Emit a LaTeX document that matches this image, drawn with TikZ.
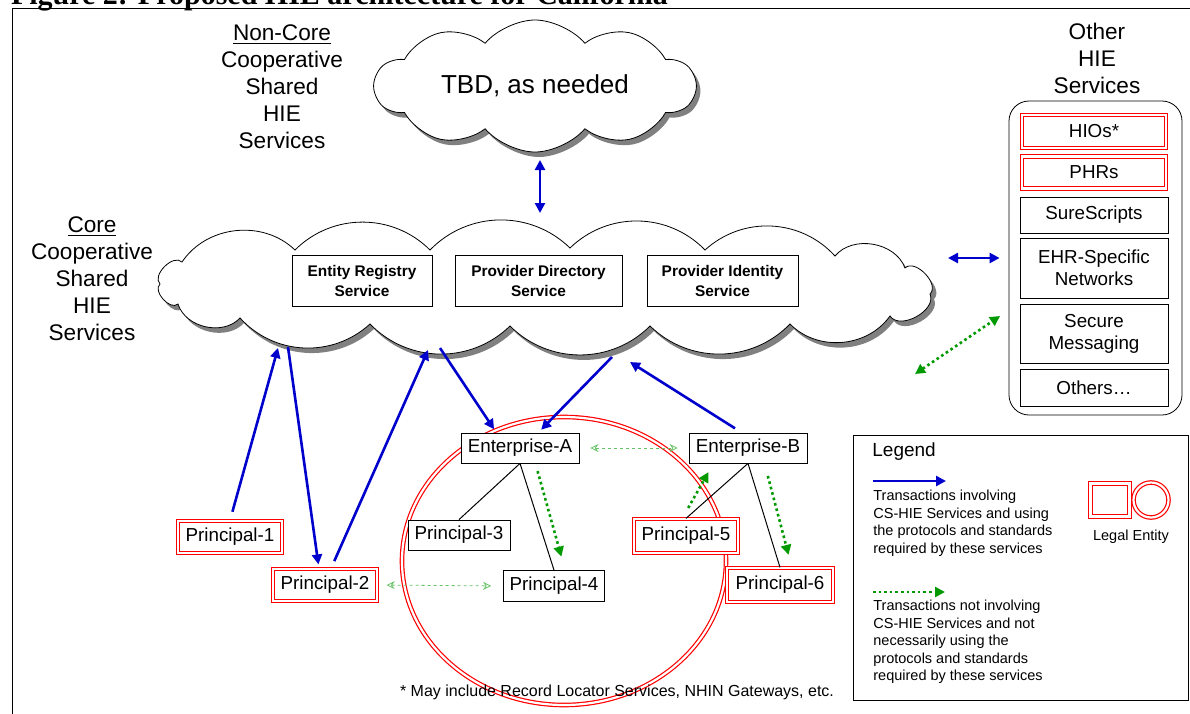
\documentclass[tikz,border=0pt]{standalone}
\usepackage{fontspec}
\setmainfont{Liberation Sans}
\newfontfamily\titlefont{Liberation Serif}
\usetikzlibrary{shapes.symbols, shapes.geometric, shadows, arrows.meta}
\definecolor{myblue}{RGB}{0,0,204}
\definecolor{mygreen}{RGB}{0,153,0}
\definecolor{myred}{RGB}{255,0,0}

\begin{document}
\begin{tikzpicture}[x=0.5pt, y=-0.5pt]
	\tikzset{box/.style={draw, fill=white, rectangle, inner sep=1pt, font=\fontsize{9.4}{11}\selectfont}}
	\tikzset{legal/.style={box, draw=myred, double=white, double distance=1.1pt, line width=0.6pt}}
	\tikzset{svc/.style={box, align=center, minimum height=25.5pt, font=\fontsize{7.7}{10}\selectfont\bfseries}}
	\tikzset{biglabel/.style={align=center, font=\fontsize{11.3}{13.5}\selectfont}}
	\tikzset{legtext/.style={align=left, inner sep=0pt, font=\fontsize{7.25}{8.7}\selectfont}}
	\tikzset{cloudy/.style={draw, fill=white, cloud, cloud ignores aspect, drop shadow={shadow xshift=2pt, shadow yshift=-2.5pt, fill=black!50, opacity=1}}}
	\tikzset{corecloud/.style={insert path={(160,284) to[bend left=90] (182,262) to[bend left=50] (295,250)
		to[bend left=45] (430,250) to[bend left=45] (570,248) to[bend left=45] (705,250) to[bend left=45] (835,256)
		to[bend left=60] (905,268) to[bend left=90] (930,294) to[bend left=85] (890,316) to[bend left=50] (790,324)
		to[bend left=45] (650,326) to[bend left=45] (510,326) to[bend left=45] (370,324) to[bend left=45] (240,318)
		to[bend left=60] (178,304) to[bend left=90] (160,284) -- cycle}}}
	\tikzset{edge/.style={myblue, line width=1.3pt, -{Triangle[length=5pt,width=5pt]}}}
	\tikzset{dedge/.style={myblue, line width=1.3pt, {Triangle[length=5pt,width=5pt]}-{Triangle[length=5pt,width=5pt]}}}
	\tikzset{gedge/.style={mygreen, line width=1.3pt, dash pattern=on 1.3pt off 1.5pt, -{Triangle[length=5pt,width=5pt]}}}
	\tikzset{dgedge/.style={gedge, {Triangle[length=5pt,width=5pt]}-{Triangle[length=5pt,width=5pt]}}}
	\tikzset{fedge/.style={mygreen!60, line width=0.4pt, dash pattern=on 1.5pt off 1.5pt, {Stealth[open,length=4pt,width=4pt]}-{Stealth[open,length=4pt,width=4pt]}}}
	
	\useasboundingbox (0,0) rectangle (1190,713);
	\node(title) at (4,4) [anchor=base west, font=\titlefont\fontsize{15}{18}\selectfont\bfseries] {Figure 2:  Proposed HIE architecture for California};
	\draw[line width=0.5pt] (12,730) -- (12,8) -- (1190,8);
	
	% clouds
	\node(tbd) at (535,86) [cloudy, cloud puffs=10, cloud puff arc=100, minimum width=160pt, minimum height=66pt, font=\fontsize{13}{15}\selectfont] {TBD, as needed};
	\fill[black!50, shift={(4,5)}, corecloud];
	\draw[fill=white, corecloud];
	\coordinate(core) at (546,288);
	\node(noncorelbl) at (282,87) [biglabel] {\underline{Non-Core}\\Cooperative\\Shared\\HIE\\Services};
	\node(corelbl) at (92,279) [biglabel] {\underline{Core}\\Cooperative\\Shared\\HIE\\Services};
	
	\node(ers) at (362,280.5) [svc, minimum width=70pt] {Entity Registry\\Service};
	\node(pds) at (538.5,280.5) [svc, minimum width=83.5pt] {Provider Directory\\Service};
	\node(pis) at (722.5,280.5) [svc, minimum width=75.5pt] {Provider Identity\\Service};
	
	% other services
	\node(otherlbl) at (1097,58) [biglabel] {Other\\HIE\\Services};
	\node(other) at (1095.5,258) [draw, rounded corners=10pt, minimum width=86.5pt, minimum height=157pt] {};
	\node(hio) at (1094,131.5) [legal, minimum width=72pt, minimum height=16.5pt] {HIOs*};
	\node(phr) at (1094,172.5) [legal, minimum width=72pt, minimum height=16pt] {PHRs};
	\node(sure) at (1094,215) [box, minimum width=74pt, minimum height=18pt] {SureScripts};
	\node(ehr) at (1094,268) [box, align=center, minimum width=74pt, minimum height=30pt] {EHR-Specific\\Networks};
	\node(secure) at (1094,333.5) [box, align=center, minimum width=74pt, minimum height=29.5pt] {Secure\\Messaging};
	\node(others) at (1094,387.5) [box, minimum width=74pt, minimum height=18.5pt] {Others…};
	
	% enterprises and principals
	\node(grpA) at (564,561) [ellipse, draw=myred, double=white, double distance=1.1pt, line width=0.6pt, minimum width=162pt, minimum height=144pt] {};
	\node(entA) at (520,448) [box, minimum width=59pt, minimum height=15pt] {Enterprise-A};
	\node(entB) at (748,448) [box, minimum width=59pt, minimum height=15pt] {Enterprise-B};
	\node(pr1) at (230,537) [legal, minimum width=52pt, minimum height=16pt] {Principal-1};
	\node(pr2) at (325,585) [legal, minimum width=52pt, minimum height=16pt] {Principal-2};
	\node(pr3) at (459,535) [box, minimum width=51pt, minimum height=15pt] {Principal-3};
	\node(pr4) at (554,586) [box, minimum width=50.5pt, minimum height=15.5pt] {Principal-4};
	\node(pr5) at (686,536) [legal, minimum width=52pt, minimum height=17pt] {Principal-5};
	\node(pr6) at (780,585) [legal, minimum width=53pt, minimum height=17pt] {Principal-6};
	
	\draw[line width=0.5pt] (entA.south) -- (pr3.north);
	\draw[line width=0.5pt] (entA.south) -- (pr4.north);
	\draw[line width=0.5pt] (entB.south) -- (pr5.north);
	\draw[line width=0.5pt] (entB.south) -- (pr6.north);
	
	% blue transactions
	\coordinate(tbdS) at (540,160);
	\coordinate(coreN) at (540,213);
	\coordinate(coreE) at (948,258);
	\coordinate(c1) at (278,348);
	\coordinate(c2) at (288,347);
	\coordinate(c3) at (428,350);
	\coordinate(c4) at (440,348);
	\coordinate(c5) at (612,357);
	\coordinate(c6) at (630,362);
	\draw[dedge] (tbdS) -- (coreN);
	\draw[dedge, shorten >=4.5pt] (coreE) -- (other.west);
	\draw[edge, shorten <=4.5pt] (pr1.north) -- (c1);
	\draw[edge, shorten >=2pt] (c2) -- (pr2.110);
	\draw[edge, shorten <=4pt] (pr2.70) -- (c3);
	\draw[edge, shorten >=2pt] (c4) -- (entA.147);
	\draw[edge, shorten >=2pt] (c5) -- (entA.40);
	\draw[edge, shorten <=4pt] (entB.112) -- (c6);
	
	% green transactions
	\coordinate(g1) at (915,374);
	\coordinate(g2) at (1000,316);
	\draw[dgedge] (g1) -- (g2);
	\draw[gedge, shorten <=4pt, shorten >=7pt] (entA.-45) -- (pr4.55);
	\draw[gedge, shorten <=6pt, shorten >=5pt] (pr5.102) -- (entB.-156);
	\draw[gedge, shorten <=6.5pt, shorten >=6.5pt] (entB.-43) -- (pr6.56);
	\draw[fedge, shorten <=5.5pt, shorten >=5.5pt] (entA.east) -- (entB.west);
	\draw[fedge, shorten <=4.5pt, shorten >=6pt] (pr2.east) -- (pr4.west);
	
	\node(note) at (617,692) [font=\fontsize{8}{10}\selectfont] {* May include Record Locator Services, NHIN Gateways, etc.};
	
	% legend
	\node(legend) at (1020.5,567.5) [draw, minimum width=167.5pt, minimum height=132.5pt] {};
	\node(legtitle) at (872,452) [anchor=west, inner sep=0pt, font=\fontsize{9.5}{11}\selectfont] {Legend};
	\coordinate(lb1) at (873,481);
	\coordinate(lb2) at (946,481);
	\draw[edge] (lb1) -- (lb2);
	\node(legblue) at (873,490) [legtext, anchor=north west] {Transactions involving\\CS-HIE Services and using\\the protocols and standards\\required by these services};
	\node(lgbox) at (1110,500) [legal, minimum width=19.5pt, minimum height=16.5pt] {};
	\node(lgcirc) at (1151,500) [circle, draw=myred, double=white, double distance=1.1pt, line width=0.6pt, minimum size=17.5pt] {};
	\node(lglabel) at (1131,537) [legtext] {Legal Entity};
	\coordinate(lg1) at (873,592);
	\coordinate(lg2) at (945,592);
	\draw[gedge] (lg1) -- (lg2);
	\node(leggreen) at (873,600) [legtext, anchor=north west] {Transactions not involving\\CS-HIE Services and not\\necessarily using the\\protocols and standards\\required by these services};
\end{tikzpicture}
\end{document}
